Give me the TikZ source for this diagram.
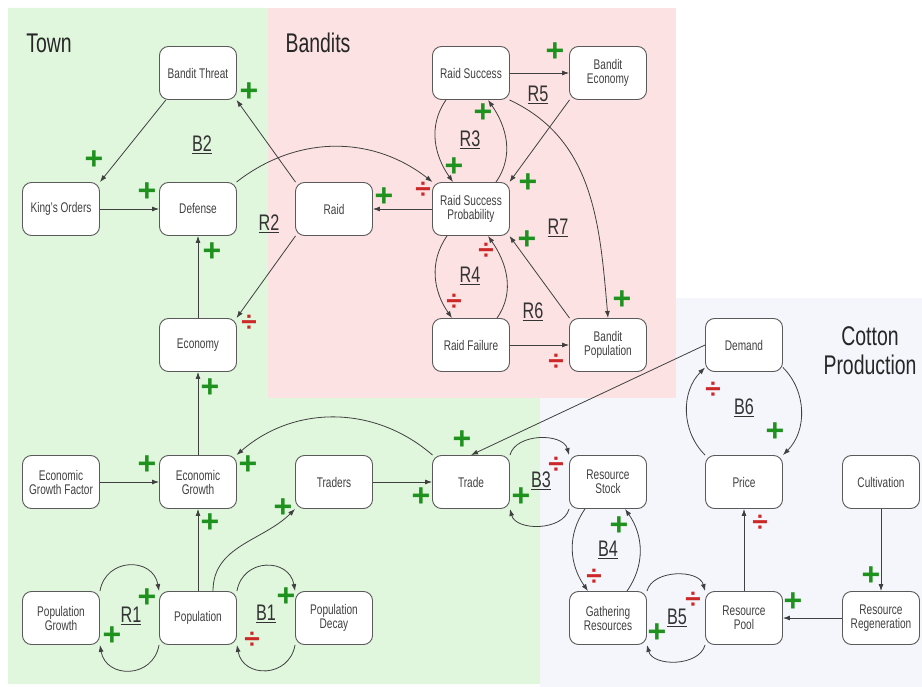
\documentclass[tikz,border=0pt]{standalone}
\usepackage{fontspec}
\setmainfont[FakeStretch=0.72]{Liberation Sans}
\newfontfamily\signfont{Liberation Sans}
\usepackage{tikz}
\usetikzlibrary{arrows.meta}
\definecolor{townbg}{RGB}{224,247,221}
\definecolor{banditbg}{RGB}{252,226,226}
\definecolor{cottonbg}{RGB}{244,246,251}
\definecolor{posgreen}{RGB}{30,145,30}
\definecolor{negred}{RGB}{205,40,40}
\definecolor{boxline}{RGB}{90,90,90}

\begin{document}
\begin{tikzpicture}[x=1pt, y=-1pt, >={Latex[length=7pt,width=5pt]}]
    \tikzstyle{var} = [rectangle, rounded corners=9pt, draw=boxline, line width=0.9pt, fill=white, minimum width=77pt, minimum height=53pt, inner sep=1pt, align=center, font=\fontsize{14}{14}\selectfont, text=black!75]
    \tikzstyle{link} = [->, draw=black!75, line width=0.8pt]
    \tikzstyle{plus} = [text=posgreen, font=\signfont\bfseries\fontsize{32}{32}\selectfont, inner sep=0pt]
    \tikzstyle{minus} = [text=negred, font=\signfont\bfseries\fontsize{28}{28}\selectfont, inner sep=0pt]
    \tikzstyle{looplabel} = [font=\fontsize{22.5}{22.5}\selectfont, text=black!80, inner sep=1pt]
    \tikzstyle{region} = [font=\fontsize{27}{29}\selectfont, align=center, text=black!85]

    \useasboundingbox (0,0) rectangle (922,687);

    % Regions
    \fill[cottonbg] (540,298) rectangle (922,687);
    \fill[banditbg] (268,8) rectangle (676,398);
    \fill[townbg] (8,8) -- (268,8) -- (268,398) -- (540,398) -- (540,684) -- (8,684) -- cycle;
    \node[region] (town) at (49,43) {Town};
    \node[region] (bandits) at (318,43) {Bandits};
    \node[region] (cotton) at (870,351) {Cotton\\Production};

    % Variables
    \node[var] (threat) at (198,73) {Bandit Threat};
    \node[var] (orders) at (61,209) {King's Orders};
    \node[var] (defense) at (198,209) {Defense};
    \node[var] (raid) at (334,209) {Raid};
    \node[var] (economy) at (198,345) {Economy};
    \node[var] (rsucc) at (471,73) {Raid Success};
    \node[var] (beco) at (608,73) {Bandit\\Economy};
    \node[var] (rprob) at (471,209) {Raid Success\\Probability};
    \node[var] (rfail) at (471,345) {Raid Failure};
    \node[var] (bpop) at (608,345) {Bandit\\Population};
    \node[var] (demand) at (744,345) {Demand};
    \node[var] (egf) at (61,482) {Economic\\Growth Factor};
    \node[var] (egrowth) at (198,482) {Economic\\Growth};
    \node[var] (traders) at (334,482) {Traders};
    \node[var] (trade) at (471,482) {Trade};
    \node[var] (stock) at (608,482) {Resource\\Stock};
    \node[var] (price) at (744,482) {Price};
    \node[var] (cult) at (881,482) {Cultivation};
    \node[var] (pgrowth) at (61,618) {Population\\Growth};
    \node[var] (pop) at (198,618) {Population};
    \node[var] (pdecay) at (334,618) {Population\\Decay};
    \node[var] (gather) at (608,618) {Gathering\\Resources};
    \node[var] (pool) at (744,618) {Resource\\Pool};
    \node[var] (regen) at (881,618) {Resource\\Regeneration};

    % Town links
    \draw[link] (threat.-140) -- (orders.north east);
    \draw[link] (orders) -- (defense);
    \draw[link] (raid.145) -- (threat.-35);
    \draw[link] (economy) -- (defense);
    \draw[link] (raid.-145) -- (economy.35);
    \draw[link] (defense.35) to[bend left=38] (rprob.145);
    \draw[link] (egf) -- (egrowth);
    \draw[link] (egrowth) -- (economy);
    \draw[link] (pop) -- (egrowth);
    \draw[link] (traders) -- (trade);
    \draw[link] (trade.145) to[bend right=41] (egrowth.35);
    \draw[link] ([xshift=15pt]pop.north) to[out=90,in=-135] (traders.south west);
    \draw[link] (pgrowth.north east) to[out=80,in=100,looseness=1.5] (pop.north west);
    \draw[link] (pop.south west) to[out=-100,in=-80,looseness=1.5] (pgrowth.south east);
    \draw[link] (pop.north east) to[out=80,in=100,looseness=1.5] (pdecay.north west);
    \draw[link] (pdecay.south west) to[out=-100,in=-80,looseness=1.5] (pop.south east);

    % Bandit links
    \draw[link] (rprob) -- (raid);
    \draw[link] (rsucc) -- (beco);
    \draw[link] (beco.-145) -- (rprob.35);
    \draw[link] ([xshift=-25pt]rsucc.south) to[out=-125,in=125] ([xshift=-18pt]rprob.north);
    \draw[link] ([xshift=25pt]rprob.north) to[out=55,in=-55] ([xshift=17pt]rsucc.south);
    \draw[link] ([xshift=-24pt]rprob.south) to[out=-125,in=125] ([xshift=-19pt]rfail.north);
    \draw[link] ([xshift=26pt]rfail.north) to[out=55,in=-55] ([xshift=17pt]rprob.south);
    \draw[link] (rsucc.-35) to[out=-25,in=95] (bpop.north);
    \draw[link] (rfail) -- (bpop);
    \draw[link] (bpop.145) -- (rprob.-35);

    % Cotton links
    \draw[link] (demand.west) -- (trade.north);
    \draw[link] (trade.north east) to[out=75,in=105] (stock.north west);
    \draw[link] (stock.south west) to[out=-105,in=-75] (trade.south east);
    \draw[link] ([xshift=-23pt]stock.south) to[out=-125,in=125] ([xshift=-20pt]gather.north);
    \draw[link] ([xshift=19pt]gather.north) to[out=55,in=-55] ([xshift=17pt]stock.south);
    \draw[link] (gather.north east) to[out=75,in=105] (pool.north west);
    \draw[link] (pool.south west) to[out=-105,in=-75] (gather.south east);
    \draw[link] (pool) -- (price);
    \draw[link] (demand.-30) to[out=-45,in=45] (price.north east);
    \draw[link] (price.north west) to[out=135,in=-135] (demand.-150);
    \draw[link] (cult) -- (regen);
    \draw[link] (regen) -- (pool);

    % Polarities
    \foreach \x/\y [count=\i] in {249/92, 94/160, 147/192, 212/252, 384/197, 555/52, 483/113, 454/167, 528/183, 527/240, 622/300, 210/388, 147/465, 248/465, 210/523, 283/508, 421/497, 462/440, 147/598, 112/636, 286/597, 521/497, 619/526, 657/633, 775/432, 871/576, 793/602}
        \node[plus] (plus\i) at (\x,\y) {+};
    \foreach \x/\y [count=\i] in {423/190, 249/323, 486/251, 454/302, 556/362, 252/640, 556/465, 594/577, 693/600, 713/390, 760/523}
        \node[minus] (minus\i) at (\x,\y) {÷};

    % Loop labels
    \foreach \lbl/\x/\y in {B2/202/145, R2/269/224, R3/470/140, R4/470/276, R5/538/95, R6/533/312, R7/558/228, R1/131/616, B1/266/614, B3/541/481, B4/608/550, B5/677/618, B6/744/408}
        \node[looplabel] (loop\lbl) at (\x,\y) {\underline{\lbl}};

\end{tikzpicture}
\end{document}
